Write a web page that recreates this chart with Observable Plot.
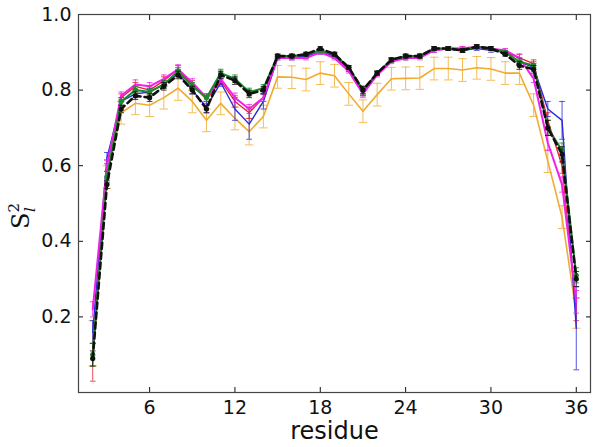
<!DOCTYPE html>
<html><head><meta charset="utf-8">
<script src="https://cdn.jsdelivr.net/npm/d3@7"></script>
<script src="https://cdn.jsdelivr.net/npm/@observablehq/plot@0.6"></script>
<style>body{margin:0;background:#fff}</style>
</head><body><div id="chart"></div>
<script>
const residues = [2,3,4,5,6,7,8,9,10,11,12,13,14,15,16,17,18,19,20,21,22,23,24,25,26,27,28,29,30,31,32,33,34,35,36];
const xTicks = [6,12,18,24,30,36];
const yTicks = [0.2,0.4,0.6,0.8,1.0];

const orangeVals = [0.13,0.57,0.74,0.765,0.76,0.78,0.805,0.77,0.72,0.765,0.725,0.69,0.73,0.835,0.834,0.828,0.845,0.838,0.79,0.744,0.788,0.83,0.831,0.832,0.857,0.857,0.853,0.859,0.856,0.845,0.845,0.76,0.612,0.464,0.21];
const orangeErr  = [0.06,0.03,0.03,0.03,0.03,0.03,0.032,0.03,0.03,0.03,0.03,0.035,0.03,0.03,0.03,0.03,0.03,0.03,0.03,0.03,0.03,0.03,0.03,0.03,0.03,0.03,0.03,0.03,0.03,0.03,0.03,0.03,0.03,0.03,0.04];
const redVals    = [0.08,0.60,0.78,0.81,0.80,0.825,0.855,0.815,0.775,0.825,0.77,0.74,0.78,0.89,0.89,0.89,0.905,0.89,0.855,0.795,0.845,0.88,0.89,0.89,0.91,0.91,0.91,0.915,0.91,0.90,0.885,0.87,0.72,0.60,0.22];
const redErr     = [0.05,0.015,0.01,0.01,0.01,0.01,0.01,0.01,0.01,0.01,0.015,0.015,0.01,0.005,0.005,0.005,0.005,0.005,0.005,0.01,0.005,0.005,0.005,0.005,0.005,0.005,0.005,0.005,0.005,0.005,0.01,0.01,0.02,0.02,0.03];
const blueVals   = [0.16,0.62,0.77,0.79,0.795,0.815,0.845,0.80,0.755,0.82,0.75,0.71,0.77,0.885,0.885,0.89,0.90,0.89,0.855,0.795,0.845,0.88,0.885,0.89,0.905,0.91,0.905,0.91,0.905,0.90,0.875,0.86,0.75,0.72,0.17];
const blueErr    = [0.03,0.015,0.01,0.01,0.01,0.01,0.01,0.01,0.015,0.01,0.03,0.04,0.02,0.005,0.005,0.005,0.005,0.005,0.005,0.01,0.005,0.005,0.005,0.005,0.005,0.005,0.005,0.005,0.005,0.005,0.01,0.01,0.02,0.05,0.11];
const magentaVals= [0.22,0.60,0.785,0.815,0.81,0.83,0.855,0.82,0.78,0.83,0.78,0.75,0.78,0.885,0.885,0.885,0.90,0.885,0.85,0.79,0.84,0.875,0.885,0.885,0.905,0.91,0.91,0.915,0.91,0.905,0.885,0.83,0.66,0.55,0.24];
const magentaErr = [0.02,0.015,0.01,0.012,0.01,0.01,0.012,0.01,0.01,0.01,0.012,0.012,0.01,0.005,0.005,0.005,0.005,0.005,0.005,0.01,0.005,0.005,0.005,0.005,0.005,0.005,0.005,0.005,0.005,0.005,0.01,0.01,0.02,0.02,0.03];
const greenVals  = [0.10,0.57,0.77,0.80,0.795,0.815,0.85,0.81,0.78,0.845,0.83,0.795,0.805,0.89,0.89,0.895,0.905,0.895,0.86,0.80,0.845,0.88,0.89,0.89,0.91,0.91,0.905,0.915,0.91,0.90,0.875,0.865,0.70,0.64,0.31];
const greenErr   = [0.03,0.015,0.01,0.01,0.01,0.01,0.01,0.01,0.01,0.01,0.01,0.01,0.01,0.005,0.005,0.005,0.005,0.005,0.005,0.01,0.005,0.005,0.005,0.005,0.005,0.005,0.005,0.005,0.005,0.005,0.01,0.01,0.02,0.02,0.02];
const blackVals  = [0.09,0.55,0.75,0.785,0.78,0.81,0.84,0.80,0.75,0.84,0.825,0.79,0.80,0.89,0.89,0.895,0.91,0.895,0.86,0.80,0.845,0.88,0.89,0.89,0.91,0.91,0.905,0.915,0.91,0.895,0.865,0.855,0.70,0.63,0.30];
const blackErr   = [0.02,0.01,0.01,0.01,0.01,0.01,0.01,0.01,0.01,0.01,0.01,0.01,0.01,0.005,0.005,0.005,0.005,0.005,0.005,0.01,0.005,0.005,0.005,0.005,0.005,0.005,0.005,0.005,0.005,0.005,0.01,0.01,0.02,0.02,0.02];

const series = [
  {name:"orange",  vals:orangeVals,  err:orangeErr,  color:"#f0ab30", w:1.6, dash:null, dot:0,   cap:0.3},
  {name:"red",     vals:redVals,     err:redErr,     color:"#e8202a", w:1.3, dash:null, dot:0,   cap:0.2},
  {name:"blue",    vals:blueVals,    err:blueErr,    color:"#2a2ad8", w:1.4, dash:null, dot:0,   cap:0.2},
  {name:"magenta", vals:magentaVals, err:magentaErr, color:"#f020e8", w:2.0, dash:null, dot:0,   cap:0.2},
  {name:"green",   vals:greenVals,   err:greenErr,   color:"#1a8a2a", w:2.0, dash:null, dot:2.6, cap:0.2},
  {name:"black",   vals:blackVals,   err:blackErr,   color:"#111111", w:2.6, dash:"6,4", dot:2.6, cap:0.2}
];

const seriesMarks = series.flatMap(s => {
  const rows = residues.map((r, i) => ({r, v: s.vals[i], lo: s.vals[i] - s.err[i], hi: s.vals[i] + s.err[i]}));
  const capOpts = (key) => ({x1: d => d.r - s.cap, x2: d => d.r + s.cap, y1: key, y2: key, stroke: s.color, strokeWidth: 1, strokeOpacity: 0.8});
  const m = [
    Plot.ruleX(rows, {x: "r", y1: "lo", y2: "hi", stroke: s.color, strokeWidth: 1, strokeOpacity: 0.8}),
    Plot.link(rows, capOpts("lo")),
    Plot.link(rows, capOpts("hi")),
    Plot.line(rows, {x: "r", y: "v", stroke: s.color, strokeWidth: s.w, strokeDasharray: s.dash})
  ];
  if (s.dot) m.push(Plot.dot(rows, {x: "r", y: "v", r: s.dot, fill: s.color, stroke: "none"}));
  return m;
});

const plot = Plot.plot({
  width: 600, height: 447,
  marginLeft: 78, marginRight: 10, marginTop: 14, marginBottom: 55,
  x: {domain: [1, 37]},
  y: {domain: [0, 1]},
  style: {fontFamily: "'DejaVu Sans', sans-serif", fontSize: "19px", color: "#111", background: "#fff"},
  marks: [
    ...seriesMarks,
    Plot.axisX(xTicks, {anchor: "bottom", tickSize: -5, tickPadding: 13, fontSize: 19, label: null}),
    Plot.axisX(xTicks, {anchor: "top", tickSize: -5, tickFormat: () => "", label: null}),
    Plot.axisY(yTicks, {anchor: "left", tickSize: -5, tickPadding: 12, fontSize: 19, label: null, tickFormat: d3.format(".1f")}),
    Plot.axisY(yTicks, {anchor: "right", tickSize: -5, tickFormat: () => "", label: null}),
    Plot.frame({stroke: "#444", strokeWidth: 1.2}),
    Plot.text(["residue"], {frameAnchor: "bottom", dy: 46, fontSize: 24, fill: "#111"})
  ]
});

document.getElementById("chart").appendChild(plot);

// y-axis label S_l^2 (rotated)
const svg = d3.select(plot);
const lab = svg.append("text")
  .attr("transform", "translate(29,216) rotate(-90)")
  .attr("text-anchor", "middle")
  .attr("font-family", "'DejaVu Serif', serif")
  .attr("font-size", 24)
  .attr("fill", "#111");
lab.append("tspan").text("S");
lab.append("tspan").attr("font-size", 15).attr("dy", -10).text("2");
lab.append("tspan").attr("font-size", 15).attr("font-style", "italic").attr("dx", -9).attr("dy", 16).text("l");
</script>
</body></html>
